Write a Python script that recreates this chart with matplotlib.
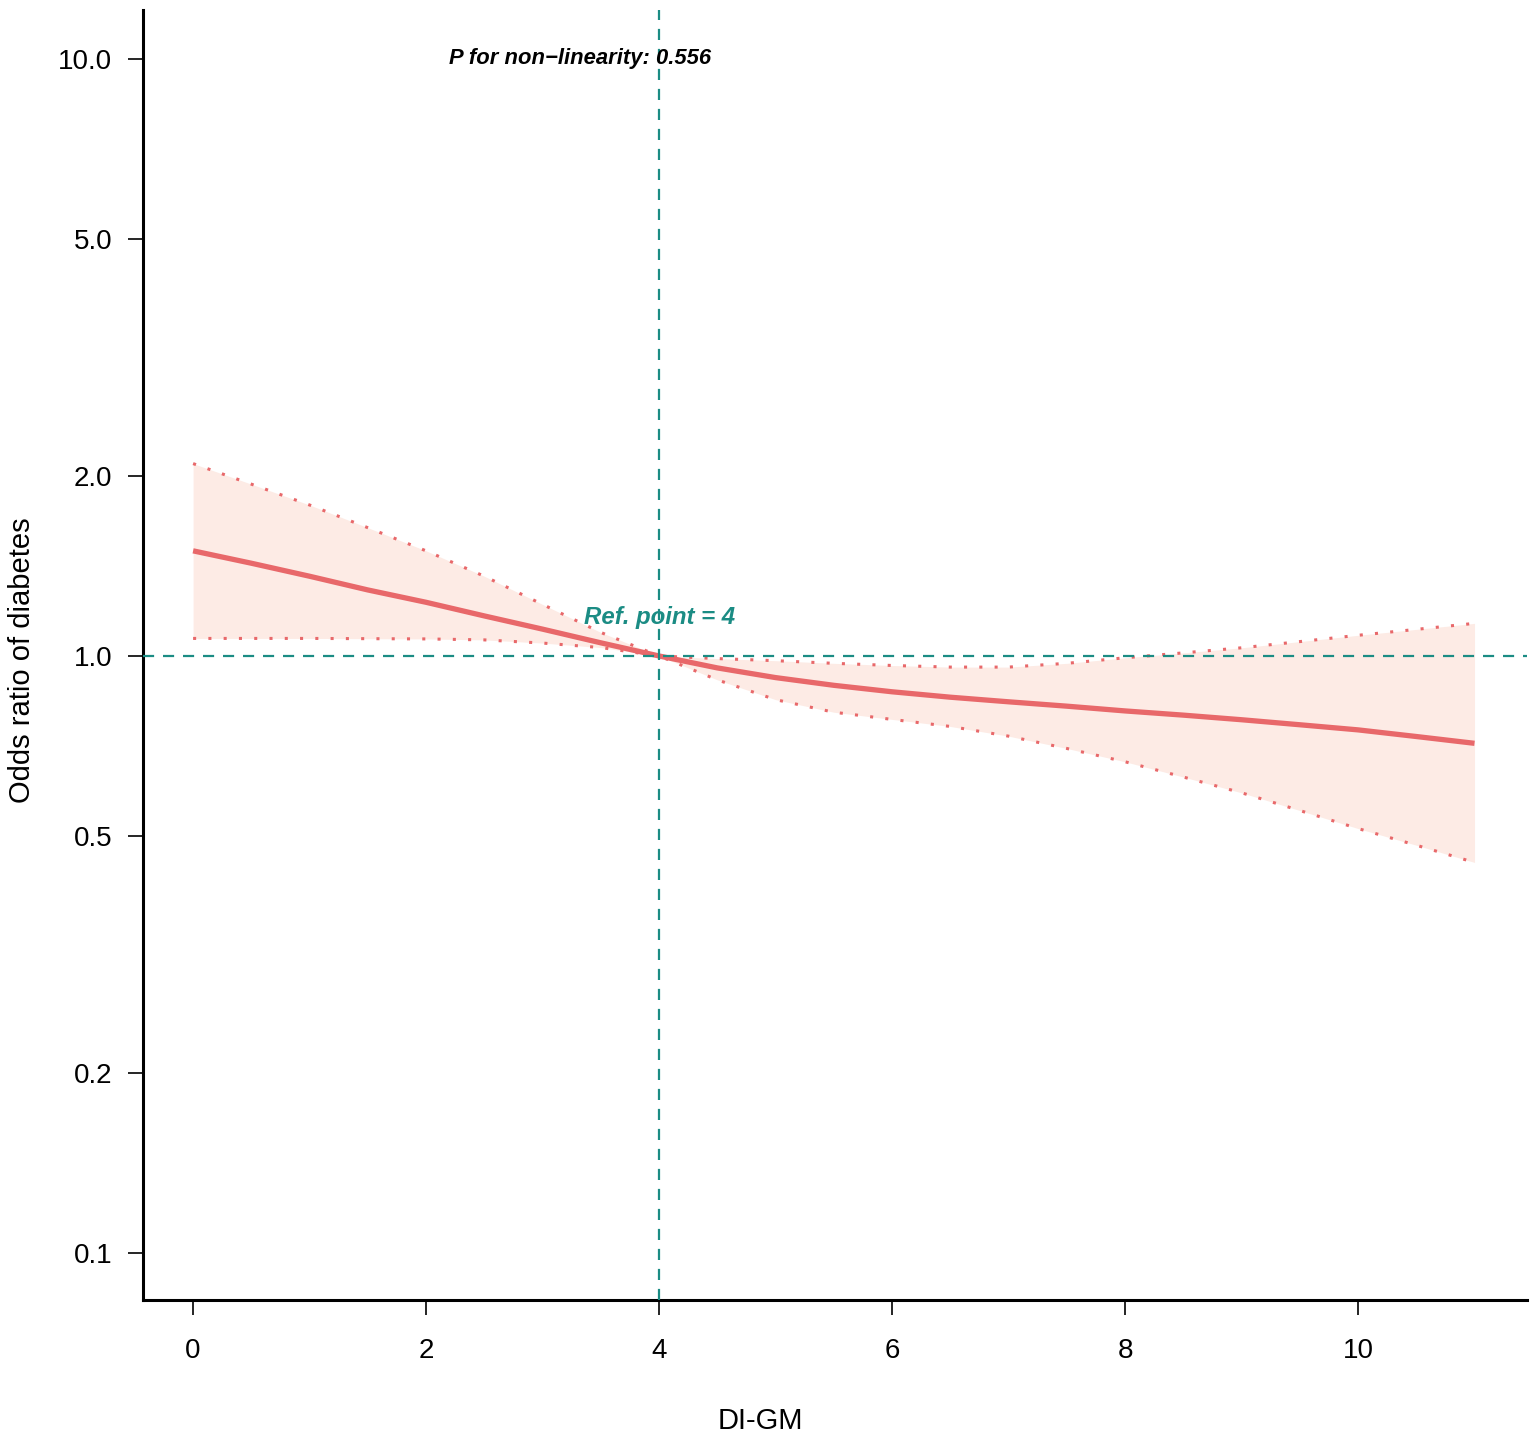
import numpy as np
import matplotlib
matplotlib.use("Agg")
import matplotlib.pyplot as plt
from matplotlib.ticker import FixedLocator, FixedFormatter, NullLocator

plt.rcParams['font.family'] = ['Liberation Sans', 'DejaVu Sans']

# Restricted cubic spline estimate
di_gm = [0, 0.5, 1, 1.5, 2, 2.5, 3, 3.5, 4, 4.5, 5, 5.5, 6, 6.5, 7, 7.5, 8, 8.5, 9, 9.5, 10, 10.5, 11]
odds_ratio = [1.50, 1.43, 1.36, 1.29, 1.23, 1.167, 1.109, 1.052, 1.00, 0.955, 0.920, 0.893, 0.871,
              0.853, 0.838, 0.824, 0.809, 0.796, 0.782, 0.767, 0.752, 0.733, 0.714]
ci_upper = [2.10, 1.94, 1.79, 1.64, 1.50, 1.36, 1.22, 1.095, 1.00, 0.99, 0.982, 0.972, 0.964, 0.958,
            0.958, 0.972, 0.993, 1.012, 1.032, 1.057, 1.083, 1.108, 1.134]
ci_lower = [1.07, 1.07, 1.07, 1.069, 1.068, 1.064, 1.051, 1.033, 1.00, 0.912, 0.845, 0.805, 0.783,
            0.762, 0.734, 0.700, 0.665, 0.627, 0.590, 0.551, 0.514, 0.482, 0.451]

ref_point = 4
p_nonlin = 0.556
y_ticks = [0.1, 0.2, 0.5, 1.0, 2.0, 5.0, 10.0]
y_tick_labels = ["0.1", "0.2", "0.5", "1.0", "2.0", "5.0", "10.0"]
x_ticks = [0, 2, 4, 6, 8, 10]

line_col = "#E8686A"
fill_col = "#FDEBE5"
teal = "#1B8C84"

fig = plt.figure(figsize=(15.36, 14.41), dpi=100)
ax = fig.add_axes([0.0931, 0.0978, 0.9010, 0.8953])

ax.fill_between(di_gm, ci_lower, ci_upper, color=fill_col, lw=0, zorder=1)
ax.plot(di_gm, ci_upper, color=line_col, lw=2.2, linestyle=(0, (1, 4)), zorder=2)
ax.plot(di_gm, ci_lower, color=line_col, lw=2.2, linestyle=(0, (1, 4)), zorder=2)
ax.plot(di_gm, odds_ratio, color=line_col, lw=3.8, solid_capstyle='butt', zorder=3)

ax.axhline(1.0, color=teal, lw=1.6, linestyle=(0, (5, 4)), zorder=4)
ax.axvline(ref_point, color=teal, lw=1.6, linestyle=(0, (5, 4)), zorder=4)

ax.set_yscale("log")
ax.set_xlim(-0.43, 11.45)
ax.set_ylim(0.0834, 12.08)
ax.yaxis.set_major_locator(FixedLocator(y_ticks))
ax.yaxis.set_major_formatter(FixedFormatter(y_tick_labels))
ax.yaxis.set_minor_locator(NullLocator())
ax.set_xticks(x_ticks)

for side in ["top", "right"]:
    ax.spines[side].set_visible(False)
for side in ["left", "bottom"]:
    ax.spines[side].set_linewidth(2.2)

ax.tick_params(axis="y", length=11, width=1.2, pad=11, labelsize=20)
ax.tick_params(axis="x", length=11, width=1.2, pad=16, labelsize=20)

ax.set_xlabel("DI-GM", fontsize=21)
ax.set_ylabel("Odds ratio of diabetes", fontsize=21)
ax.xaxis.set_label_coords(0.446, -0.083)
ax.yaxis.set_label_coords(-0.077, 0.496)

ax.text(2.2, 10.0, f"P for non\u2212linearity: {p_nonlin}", fontsize=15.8, fontweight="bold",
        fontstyle="italic", ha="left", va="center", zorder=5)
ax.text(ref_point, 1.158, f"Ref. point = {ref_point}", fontsize=17.3, fontweight="bold",
        fontstyle="italic", color=teal, ha="center", va="center", zorder=5)

fig.savefig("out.png", dpi=100)
